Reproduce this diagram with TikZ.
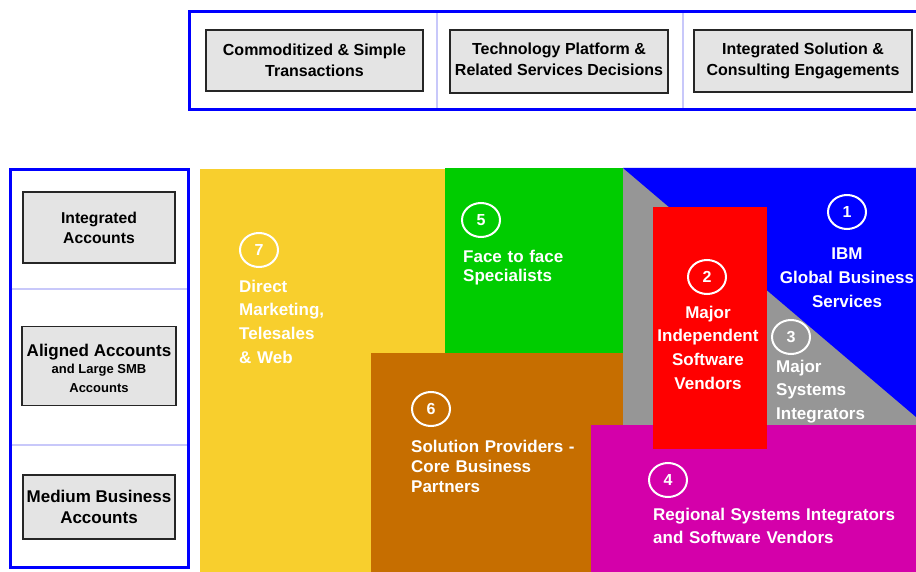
\documentclass[tikz,border=0pt]{standalone}
\usepackage{fontspec}
\setmainfont{Liberation Sans}
\usetikzlibrary{shapes.geometric}

\definecolor{segYellow}{RGB}{248,207,45}
\definecolor{segGreen}{RGB}{0,204,0}
\definecolor{segBlue}{RGB}{0,0,255}
\definecolor{segGray}{RGB}{150,150,150}
\definecolor{segRed}{RGB}{255,0,0}
\definecolor{segOrange}{RGB}{198,110,0}
\definecolor{segMagenta}{RGB}{212,0,170}
\definecolor{headFill}{RGB}{228,228,228}
\definecolor{frameBlue}{RGB}{0,0,255}
\definecolor{splitLine}{RGB}{200,200,250}

\tikzset{
  frameline/.style={draw=frameBlue, line width=3pt},
  splitline/.style={draw=splitLine, line width=2pt},
  headbox/.style={draw=black!85, fill=headFill, line width=1.8pt, inner sep=0pt,
    align=center, font=\bfseries\fontsize{16}{21}\selectfont},
  headtext/.style={inner sep=0pt, align=center, font=\bfseries\fontsize{16}{21}\selectfont},
  numring/.style={ellipse, draw=white, line width=2pt, minimum width=38pt,
    minimum height=34pt, inner sep=0pt, text=white,
    font=\bfseries\fontsize{16}{18}\selectfont},
  seglabel/.style={text=white, inner sep=0pt, text width=200pt, align=left,
    anchor=base west, font=\bfseries\fontsize{17}{23.7}\selectfont},
  seglabelc/.style={seglabel, text width=150pt, align=center, anchor=base},
}

\begin{document}
\begin{tikzpicture}[x=1pt, y=-1pt]
\useasboundingbox (0,0) rectangle (916,572);

% --- column header frame (open on the right) ---
\draw[frameline] (918,12) -- (189,12) -- (189,110) -- (918,110);
\draw[splitline] (437,13.5) -- (437,108.5);
\draw[splitline] (683,13.5) -- (683,108.5);

\node[headbox, minimum width=217pt, minimum height=61pt] (hSimple) at (314.5,60.5)
  {Commoditized \& Simple\\Transactions};
\node[headbox, minimum width=218pt, minimum height=63pt] (hPlatform) at (559,61.5) {};
\node[headtext] (hPlatformText) at ([yshift=2pt]hPlatform.center)
  {Technology Platform \&\\Related Services Decisions};
\node[headbox, minimum width=218pt, minimum height=62pt] (hConsult) at (803,61)
  {Integrated Solution \&\\Consulting Engagements};

% --- row header frame ---
\draw[frameline] (10,170) rectangle (188,567);
\draw[splitline] (11.5,289) -- (186.5,289);
\draw[splitline] (11.5,445) -- (186.5,445);

\node[headbox, minimum width=152pt, minimum height=71pt,
      font=\bfseries\fontsize{15.7}{20}\selectfont] (rInteg) at (99,227.5)
  {Integrated\\Accounts};
\node[headbox, minimum width=154pt, minimum height=79pt] (rAlign) at (99,366) {};
\node[headtext] (rAlignText) at ([yshift=-2.5pt]rAlign.center)
  {{\fontsize{17}{19}\selectfont Aligned Accounts}\\[-4pt]
   {\fontsize{13}{16}\selectfont and Large SMB}\\[-2pt]
   {\fontsize{13}{16}\selectfont Accounts}};
\node[headbox, minimum width=152pt, minimum height=64pt,
      font=\bfseries\fontsize{17}{21}\selectfont] (rMedium) at (99,507)
  {Medium Business\\Accounts};

% --- coverage segments ---
\fill[segYellow] (200,169) rectangle (445,572);
\fill[segGreen] (445,168) rectangle (623,353);
\fill[segGray] (623,168) rectangle (916,425);
\fill[segBlue] (623,168) -- (916,168) -- (916,417) -- cycle;
\fill[segOrange] (371,353) rectangle (623,572);
\fill[segMagenta] (591,425) rectangle (916,572);
\fill[segRed] (653,207) rectangle (767,449);

% --- numbered rings ---
\node[numring] (n1) at (847,212) {1};
\node[numring] (n2) at (707,277) {2};
\node[numring] (n3) at (791,337) {3};
\node[numring] (n4) at (668,480) {4};
\node[numring] (n5) at (481,220) {5};
\node[numring] (n6) at (431,409) {6};
\node[numring] (n7) at (259,250) {7};

% --- segment names ---
\node[seglabelc] (l1) at (847,260) {IBM\\Global Business\\Services};
\node[seglabelc] (l2) at (708,318) {Major\\Independent\\Software\\Vendors};
\node[seglabel] (l3) at (776,372) {Major\\Systems\\Integrators};
\node[seglabel, text width=260pt] (l4) at (653,520)
  {Regional Systems Integrators\\and Software Vendors};
\node[seglabel, font=\bfseries\fontsize{17}{20}\selectfont] (l5) at (463,262)
  {Face to face\\Specialists};
\node[seglabel, font=\bfseries\fontsize{17}{20}\selectfont] (l6) at (411,452)
  {Solution Providers -\\Core Business\\Partners};
\node[seglabel] (l7) at (239,292) {Direct\\Marketing,\\Telesales\\\& Web};

\end{tikzpicture}
\end{document}
